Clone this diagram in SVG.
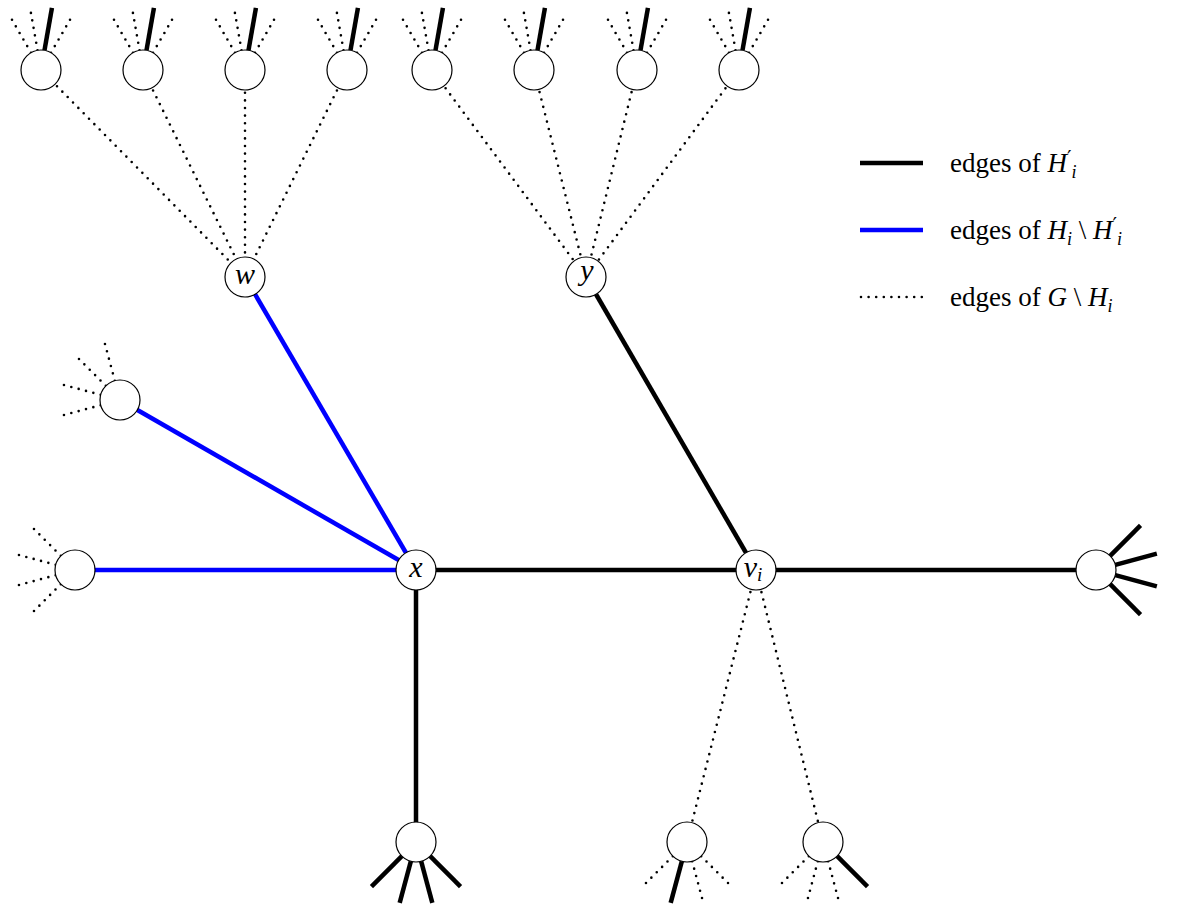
<svg xmlns="http://www.w3.org/2000/svg" xmlns:xlink="http://www.w3.org/1999/xlink" width="1183" height="909" viewBox="0 0 1183 909">
<style>
.thick{stroke:#000;stroke-width:4.5;fill:none}
.blue{stroke:#0000ff;stroke-width:4.5;fill:none}
.dot{stroke:#000;stroke-width:2.6;fill:none;stroke-dasharray:0 7.6;stroke-linecap:round}
.node{fill:#fff;stroke:#000;stroke-width:1.2}
.lbl{font-family:"Liberation Serif",serif;font-style:italic;font-size:30px;text-anchor:middle;fill:#000}
.leg{font-family:"Liberation Serif",serif;font-size:27px;fill:#000}
.it{font-style:italic}
.pr{font-family:"DejaVu Serif",serif;font-size:20px}
</style>
<defs>
<g id="topStubs">
<line class="dot" x1="10" y1="-17.32" x2="31.5" y2="-54.56"/>
<line class="thick" x1="3.47" y1="-19.7" x2="10.94" y2="-62.04"/>
<line class="dot" x1="-3.47" y1="-19.7" x2="-10.94" y2="-62.04"/>
<line class="dot" x1="-10" y1="-17.32" x2="-31.5" y2="-54.56"/>
</g>
</defs>
<rect width="1183" height="909" fill="#fff"/>
<g id="connectors">
<line class="dot" x1="41" y1="70" x2="245" y2="277"/>
<line class="dot" x1="143" y1="70" x2="245" y2="277"/>
<line class="dot" x1="245" y1="70" x2="245" y2="277"/>
<line class="dot" x1="347" y1="70" x2="245" y2="277"/>
<line class="dot" x1="432" y1="70" x2="586" y2="277"/>
<line class="dot" x1="534" y1="70" x2="586" y2="277"/>
<line class="dot" x1="637" y1="70" x2="586" y2="277"/>
<line class="dot" x1="739" y1="70" x2="586" y2="277"/>
<line class="dot" x1="756" y1="570" x2="687" y2="842"/>
<line class="dot" x1="756" y1="570" x2="823" y2="842"/>
<line class="blue" x1="245" y1="277" x2="416" y2="570"/>
<line class="blue" x1="120" y1="400" x2="416" y2="570"/>
<line class="blue" x1="75" y1="570" x2="416" y2="570"/>
<line class="thick" x1="416" y1="570" x2="756" y2="570"/>
<line class="thick" x1="586" y1="277" x2="756" y2="570"/>
<line class="thick" x1="756" y1="570" x2="1096" y2="570"/>
<line class="thick" x1="416" y1="570" x2="416" y2="842"/>
</g>
<g id="top1"><use xlink:href="#topStubs" x="41" y="70"/><circle class="node" cx="41" cy="70" r="20"/></g>
<g id="top2"><use xlink:href="#topStubs" x="143" y="70"/><circle class="node" cx="143" cy="70" r="20"/></g>
<g id="top3"><use xlink:href="#topStubs" x="245" y="70"/><circle class="node" cx="245" cy="70" r="20"/></g>
<g id="top4"><use xlink:href="#topStubs" x="347" y="70"/><circle class="node" cx="347" cy="70" r="20"/></g>
<g id="top5"><use xlink:href="#topStubs" x="432" y="70"/><circle class="node" cx="432" cy="70" r="20"/></g>
<g id="top6"><use xlink:href="#topStubs" x="534" y="70"/><circle class="node" cx="534" cy="70" r="20"/></g>
<g id="top7"><use xlink:href="#topStubs" x="637" y="70"/><circle class="node" cx="637" cy="70" r="20"/></g>
<g id="top8"><use xlink:href="#topStubs" x="739" y="70"/><circle class="node" cx="739" cy="70" r="20"/></g>
<g id="node-w"><circle class="node" cx="245" cy="277" r="20"/><text class="lbl" x="245" y="284">w</text></g>
<g id="node-y"><circle class="node" cx="586" cy="277" r="20"/><text class="lbl" x="587" y="280">y</text></g>
<g id="node-x"><circle class="node" cx="416" cy="570" r="20"/><text class="lbl" x="416" y="577">x</text></g>
<g id="node-vi"><circle class="node" cx="756" cy="570" r="20"/><text class="lbl" x="753" y="577">v<tspan font-size="19" dy="4">i</tspan></text></g>
<g id="left-upper">
<line class="dot" x1="114.82" y1="380.68" x2="103.69" y2="339.15"/>
<line class="dot" x1="105.86" y1="385.86" x2="75.45" y2="355.45"/>
<line class="dot" x1="100.68" y1="394.82" x2="59.15" y2="383.69"/>
<line class="dot" x1="100.68" y1="405.18" x2="59.15" y2="416.31"/>
<circle class="node" cx="120" cy="400" r="20"/>
</g>
<g id="left-lower">
<line class="dot" x1="60.86" y1="555.86" x2="30.45" y2="525.45"/>
<line class="dot" x1="55.68" y1="564.82" x2="14.15" y2="553.69"/>
<line class="dot" x1="55.68" y1="575.18" x2="14.15" y2="586.31"/>
<line class="dot" x1="60.86" y1="584.14" x2="30.45" y2="614.55"/>
<circle class="node" cx="75" cy="570" r="20"/>
</g>
<g id="bottom-x">
<line class="thick" x1="430.14" y1="856.14" x2="460.55" y2="886.55"/>
<line class="thick" x1="421.18" y1="861.32" x2="432.31" y2="902.85"/>
<line class="thick" x1="410.82" y1="861.32" x2="399.69" y2="902.85"/>
<line class="thick" x1="401.86" y1="856.14" x2="371.45" y2="886.55"/>
<circle class="node" cx="416" cy="842" r="20"/>
</g>
<g id="bottom-v1">
<line class="dot" x1="701.14" y1="856.14" x2="731.55" y2="886.55"/>
<line class="dot" x1="692.18" y1="861.32" x2="703.31" y2="902.85"/>
<line class="thick" x1="681.82" y1="861.32" x2="670.69" y2="902.85"/>
<line class="dot" x1="672.86" y1="856.14" x2="642.45" y2="886.55"/>
<circle class="node" cx="687" cy="842" r="20"/>
</g>
<g id="bottom-v2">
<line class="thick" x1="837.14" y1="856.14" x2="867.55" y2="886.55"/>
<line class="dot" x1="828.18" y1="861.32" x2="839.31" y2="902.85"/>
<line class="dot" x1="817.82" y1="861.32" x2="806.69" y2="902.85"/>
<line class="dot" x1="808.86" y1="856.14" x2="778.45" y2="886.55"/>
<circle class="node" cx="823" cy="842" r="20"/>
</g>
<g id="right">
<line class="thick" x1="1110.14" y1="555.86" x2="1140.55" y2="525.45"/>
<line class="thick" x1="1115.32" y1="564.82" x2="1156.85" y2="553.69"/>
<line class="thick" x1="1115.32" y1="575.18" x2="1156.85" y2="586.31"/>
<line class="thick" x1="1110.14" y1="584.14" x2="1140.55" y2="614.55"/>
<circle class="node" cx="1096" cy="570" r="20"/>
</g>
<g id="legend">
<line class="thick" x1="860" y1="163" x2="923" y2="163"/>
<line class="blue" x1="860" y1="230" x2="923" y2="230"/>
<line class="dot" x1="861" y1="297" x2="923" y2="297"/>
<text class="leg" x="950" y="172">edges of <tspan class="it">H</tspan><tspan class="pr" dy="-7">′</tspan><tspan class="it" font-size="18" dy="13">i</tspan></text>
<text class="leg" x="950" y="239">edges of <tspan class="it">H</tspan><tspan class="it" font-size="18" dy="6">i</tspan><tspan dy="-6"> \ </tspan><tspan class="it">H</tspan><tspan class="pr" dy="-7">′</tspan><tspan class="it" font-size="18" dy="13">i</tspan></text>
<text class="leg" x="950" y="306">edges of <tspan class="it">G</tspan> \ <tspan class="it">H</tspan><tspan class="it" font-size="18" dy="6">i</tspan></text>
</g>
</svg>
